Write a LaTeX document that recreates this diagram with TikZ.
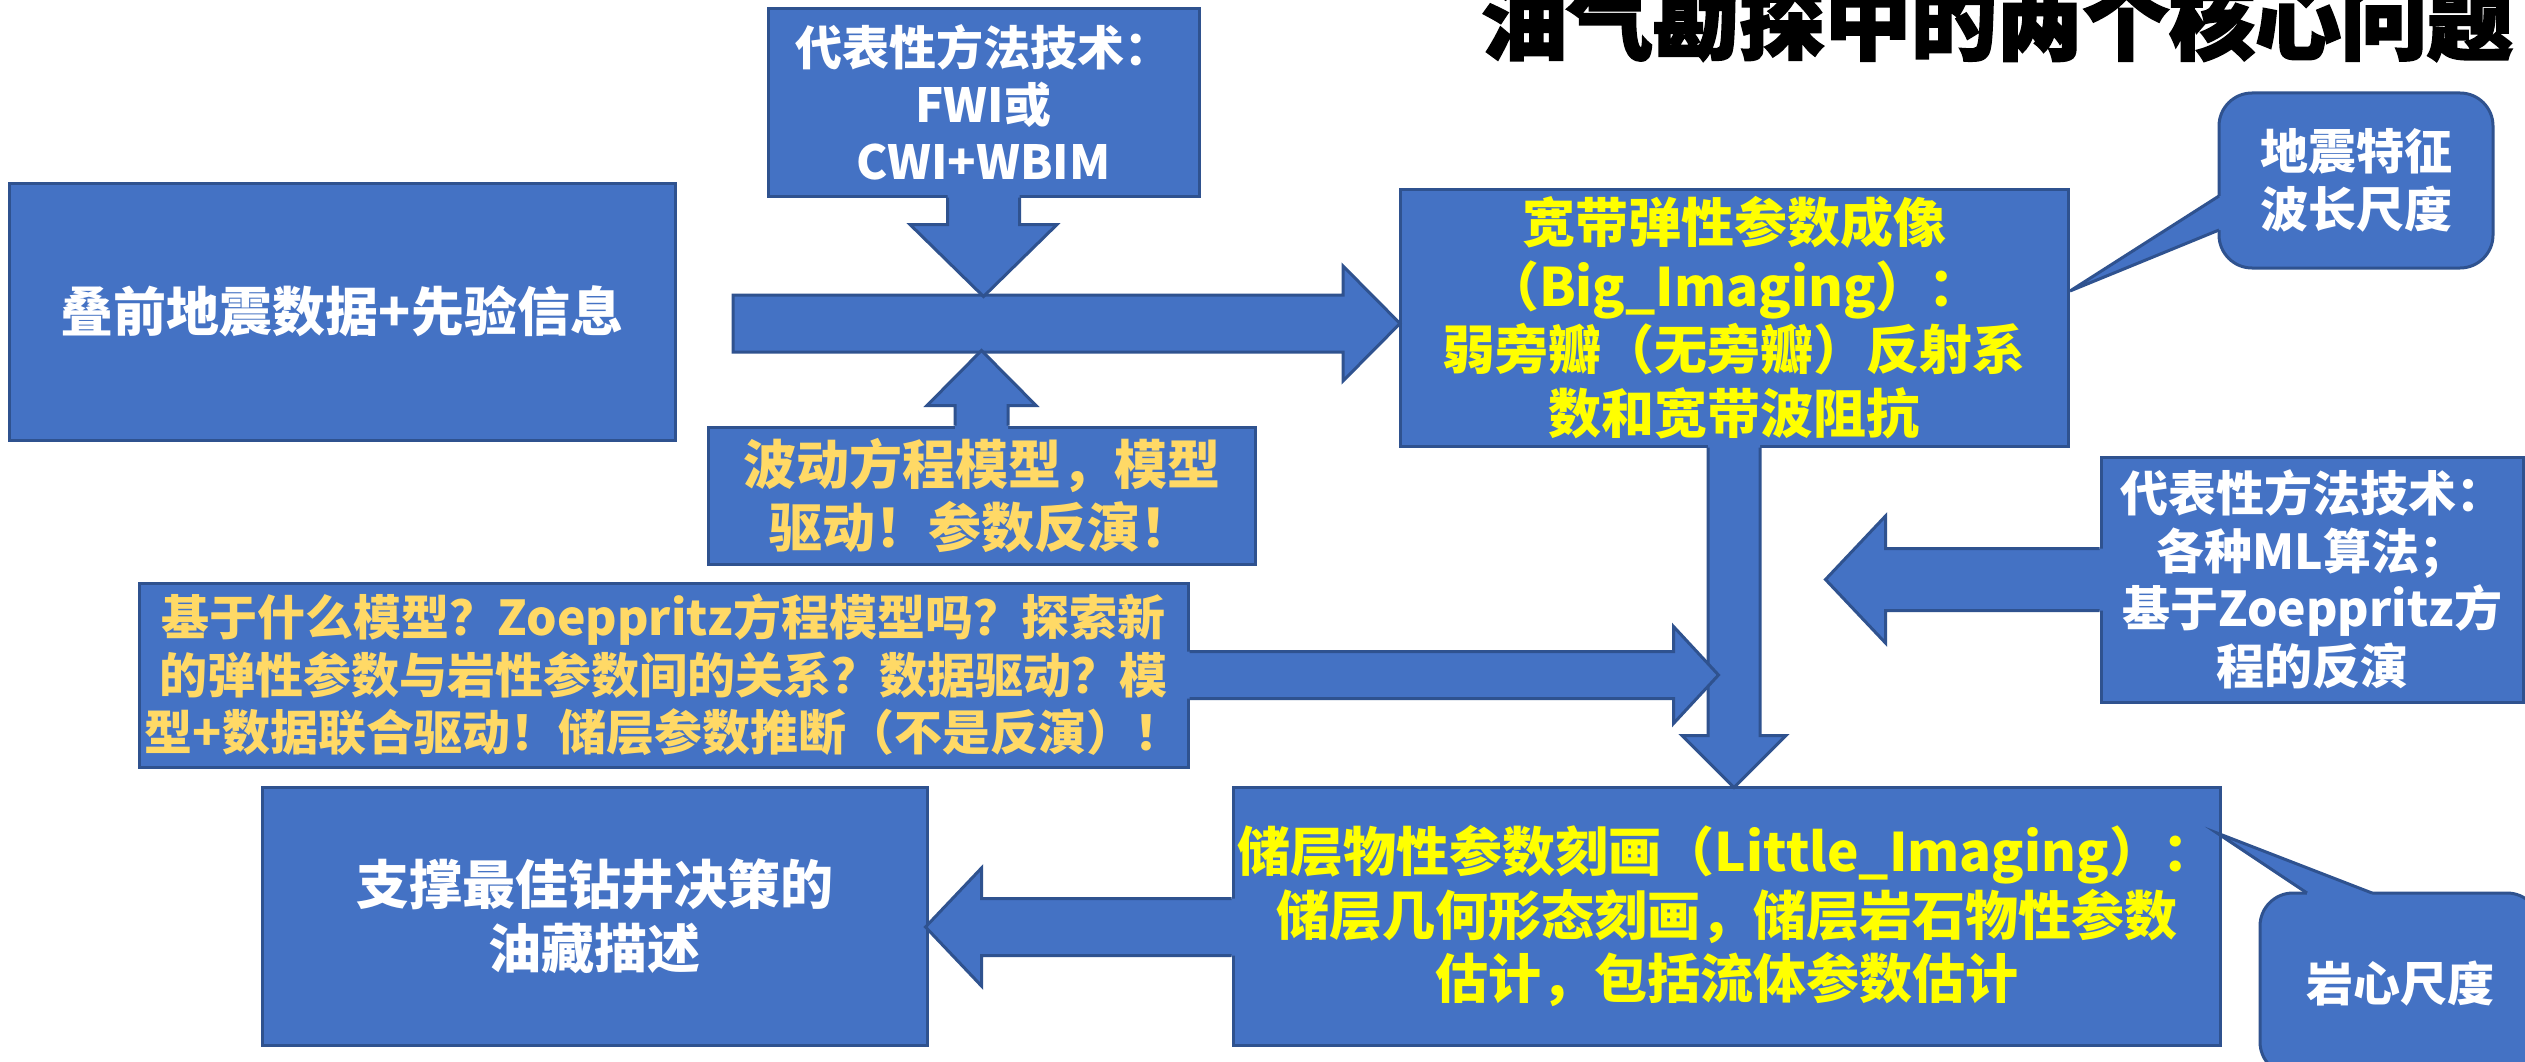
\documentclass[tikz,border=0pt]{standalone}
\usepackage{fontspec}
\setmainfont{Noto Sans CJK SC}
\newfontfamily\titlefont[BoldFeatures={FakeBold=2.5}]{Noto Sans CJK SC}
\usetikzlibrary{calc}
\definecolor{bfill}{HTML}{4472C4}
\definecolor{bdr}{HTML}{2F528F}
\definecolor{ylw}{HTML}{FFFF00}
\definecolor{gold}{HTML}{FFD966}
\tikzset{
  box/.style={draw=bdr, fill=bfill, line width=3pt, inner sep=0pt, align=center, text=white},
  arrline/.style={draw=bdr, line width=3pt, line join=miter},
  fsA/.style={font=\bfseries\fontsize{53}{63.5}\selectfont},
  fsB/.style={font=\bfseries\fontsize{48}{57.5}\selectfont},
  fsC/.style={font=\bfseries\fontsize{47}{57}\selectfont},
}
% attached block arrow: base point, canvas angle, length, shaft half width, head half width, head length
\newcommand\attarrow[6]{%
  \fill[bfill, shift={#1}, rotate=#2] (-5,-#4) -- ({#3-#6},-#4) -- ({#3-#6},-#5) -- (#3,0) -- ({#3-#6},#5) -- ({#3-#6},#4) -- (-5,#4) -- cycle;
  \draw[arrline, shift={#1}, rotate=#2] (0,-#4) -- ({#3-#6},-#4) -- ({#3-#6},-#5) -- (#3,0) -- ({#3-#6},#5) -- ({#3-#6},#4) -- (0,#4);
}
% free block arrow (closed tail)
\newcommand\freearrow[6]{%
  \draw[arrline, fill=bfill, shift={#1}, rotate=#2] (0,-#4) -- ({#3-#6},-#4) -- ({#3-#6},-#5) -- (#3,0) -- ({#3-#6},#5) -- ({#3-#6},#4) -- (0,#4) -- cycle;
}
\begin{document}
\begin{tikzpicture}[x=1pt, y=-1pt]
\useasboundingbox (0,0) rectangle (2525,1062);
\fill[white] (0,0) rectangle (2525,1062);

% title
\node[anchor=base, inner sep=0pt, font=\titlefont\bfseries\fontsize{86}{90}\selectfont] (title) at (1997,53) {油气勘探中的两个核心问题};

% boxes
\node[box, fsA, minimum width=666pt, minimum height=257pt] (A) at (342,311.5) {叠前地震数据+先验信息};
\node[box, fsC, minimum width=431pt, minimum height=187pt] (B) at (983.5,102.5) {代表性方法技术：\\FWI或\\CWI+WBIM};
\node[box, fsA, text=gold, minimum width=547pt, minimum height=137pt] (C) at (981.5,495.5) {波动方程模型，模型\\驱动！参数反演！};
\node[box, fsA, text=ylw, minimum width=668pt, minimum height=257pt] (D) at (1734,317.5) {宽带弹性参数成像\\（Big\_Imaging）：\\弱旁瓣（无旁瓣）反射系\\数和宽带波阻抗};
\node[box, fsB, minimum width=422pt, minimum height=245pt] (E) at (2312,579.5) {代表性方法技术：\\各种ML算法；\\基于Zoeppritz方\\程的反演};
\node[box, fsB, text=gold, minimum width=1049pt, minimum height=184pt] (F) at (663.5,675) {基于什么模型？Zoeppritz方程模型吗？探索新\\的弹性参数与岩性参数间的关系？数据驱动？模\\型+数据联合驱动！储层参数推断（不是反演）！};
\node[box, fsA, text=ylw, minimum width=987pt, minimum height=258pt] (G) at (1726.5,916) {储层物性参数刻画（Little\_Imaging）：\\储层几何形态刻画，储层岩石物性参数\\估计，包括流体参数估计};
\node[box, fsA, minimum width=665pt, minimum height=258pt] (H) at (594.5,916) {支撑最佳钻井决策的\\油藏描述};

% callouts
\node[box, fsB, rounded corners=33pt, minimum width=274pt, minimum height=175pt] (K1) at (2356,180.5) {地震特征\\波长尺度};
\coordinate (K1tip) at (2070,291);
\fill[bfill] (2225,196) -- (2219,196) -- (K1tip) -- (2219,230) -- (2225,230) -- cycle;
\draw[arrline] (2219,196) -- (K1tip) -- (2219,230);

\node[box, fsC, rounded corners=33pt, minimum width=280pt, minimum height=182pt] (K2) at (2400,984) {岩心尺度};
\coordinate (K2tip) at (2217,833);
\fill[bfill] (2307,899) -- (2307,893) -- (K2tip) -- (2372,893) -- (2372,899) -- cycle;
\draw[arrline] (2307,893) -- (K2tip) -- (2372,893);

% block arrows
\coordinate (h0) at (733,323.5);
\freearrow{(h0)}{0}{667}{28.5}{57.5}{57}
\attarrow{(B.south)}{-90}{99}{36}{73.5}{72}
\attarrow{(C.north)}{90}{75}{26.5}{54.5}{55}
\attarrow{(D.south)}{-90}{340}{26}{52}{52}
\attarrow{(E.west)}{180}{274}{31}{63.5}{60}
\attarrow{(F.east)}{0}{529}{23.5}{48.5}{45}
\coordinate (g0) at (G.west |- 0,927);
\attarrow{(g0)}{180}{306}{28.5}{59}{56}
\end{tikzpicture}
\end{document}
